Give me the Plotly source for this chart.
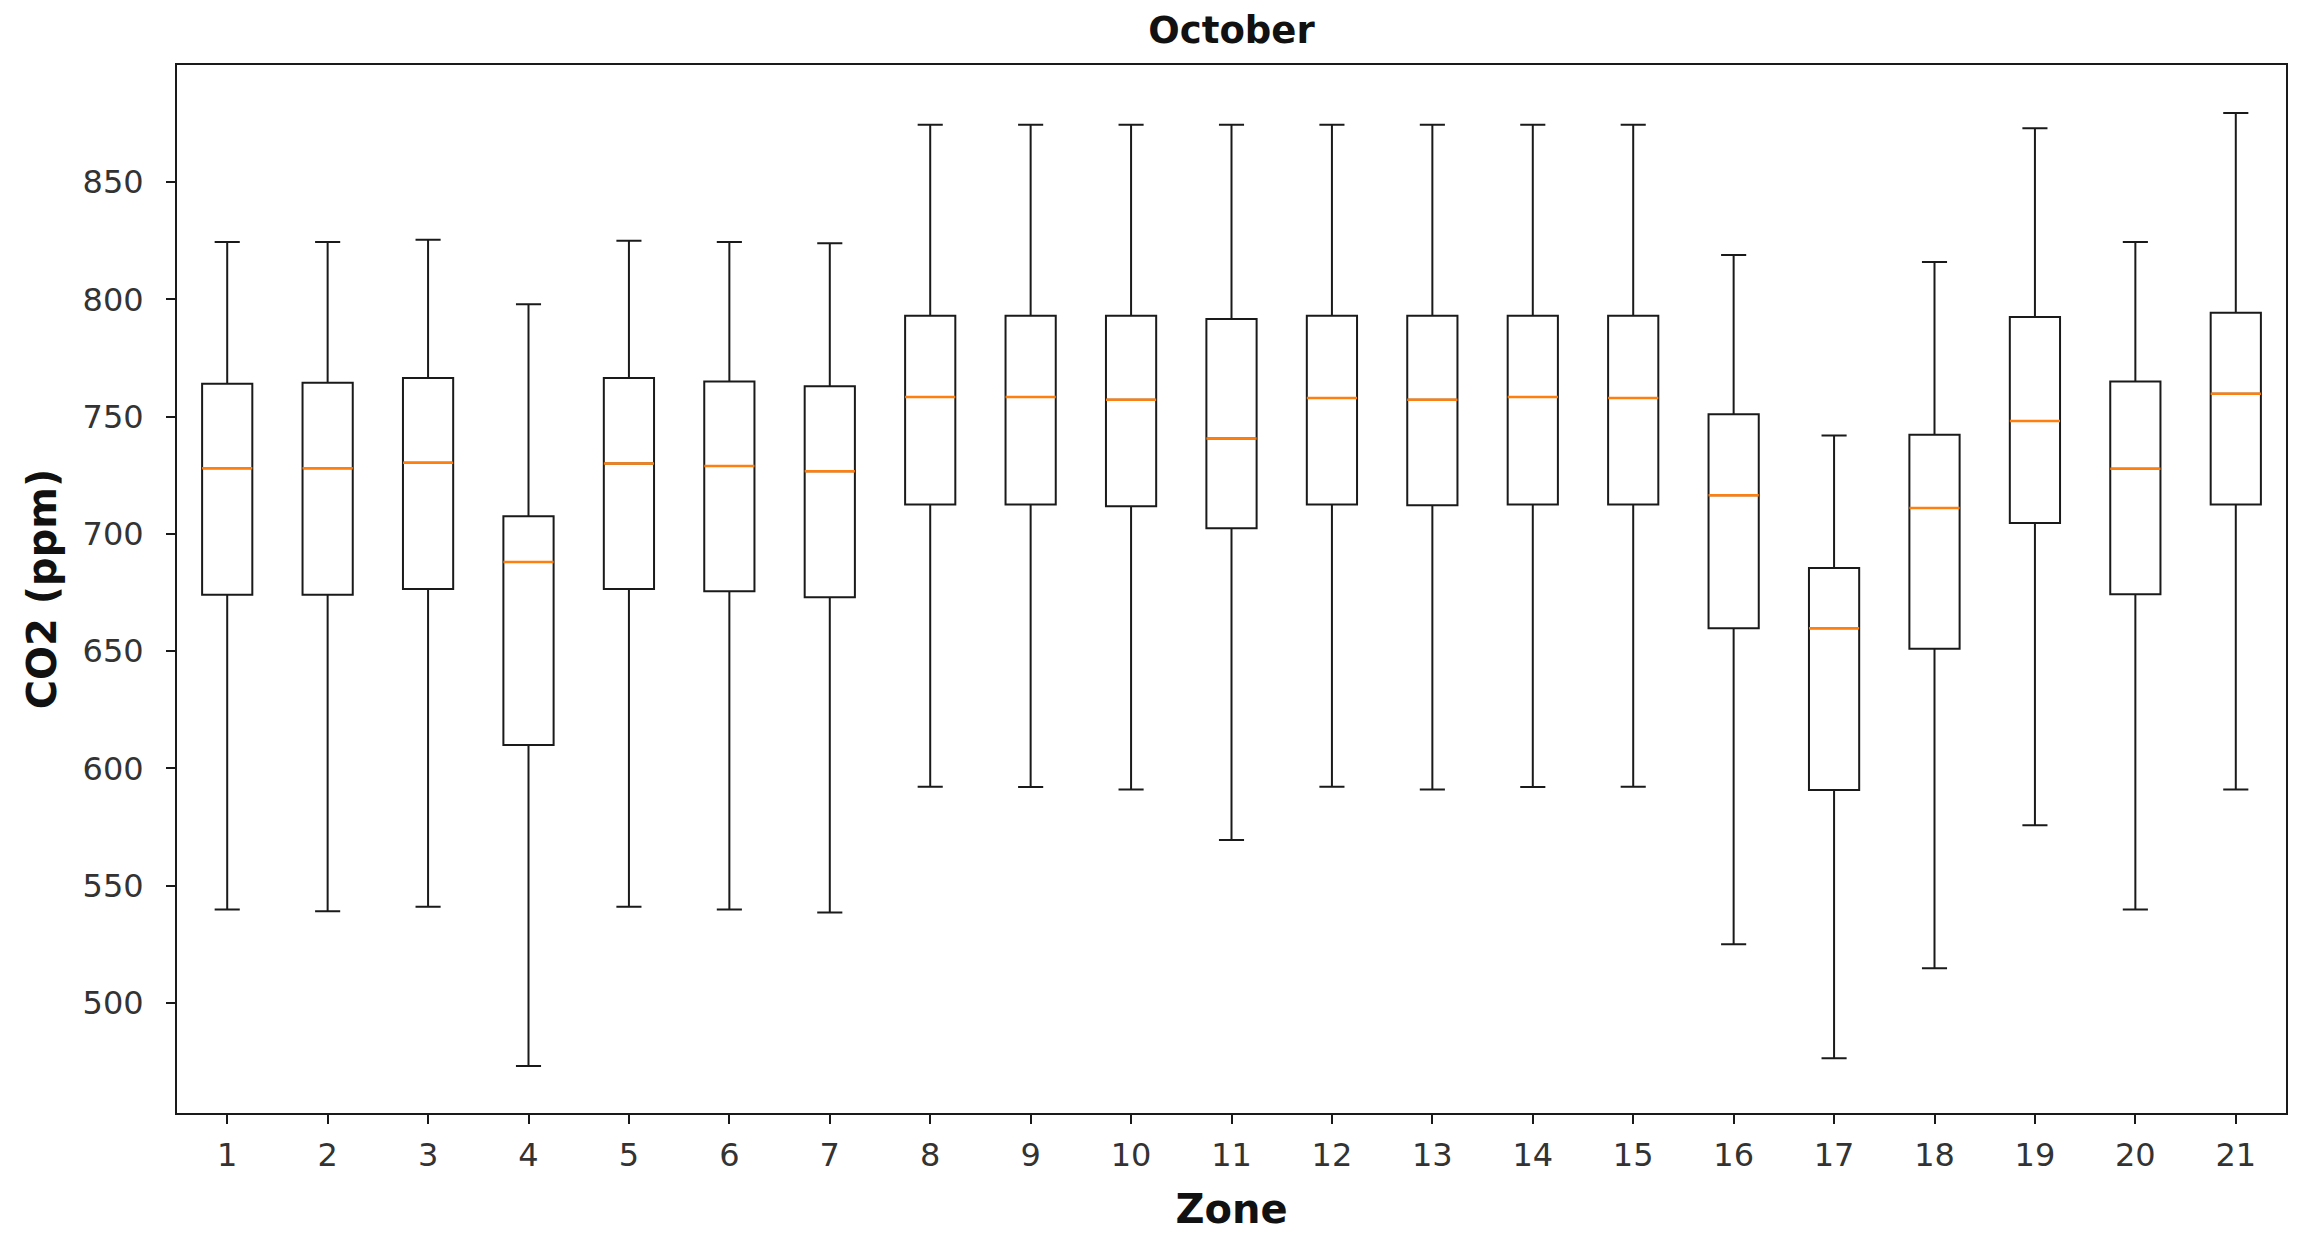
import plotly.graph_objects as go

# October CO2 box statistics per zone
zones = list(range(1, 22))
upper = [824.5, 824.5, 825.5, 798, 825, 824.5, 824, 874.5, 874.5, 874.5, 874.5,
         874.5, 874.5, 874.5, 874.5, 819, 742, 816, 873, 824.5, 879.5]
q3 = [764, 764.5, 766.5, 707.5, 766.5, 765, 763, 793, 793, 793, 791.7,
      793, 793, 793, 793, 751, 685.5, 742.3, 792.5, 765, 794.3]
median = [728, 728, 730.4, 688, 730, 729, 726.7, 758.4, 758.4, 757.2, 740.7,
          758, 757.2, 758.4, 758, 716.5, 659.8, 711, 748.2, 727.8, 759.8]
q1 = [674, 674, 676.5, 610, 676.5, 675.5, 673, 712.5, 712.5, 711.8, 702.4,
      712.5, 712.2, 712.5, 712.5, 659.8, 590.8, 651, 704.7, 674.3, 712.5]
lower = [539.8, 539, 541, 473, 541, 539.8, 538.5, 592.2, 592, 591, 569.4,
         592.2, 591, 592, 592.2, 525, 476.4, 514.7, 575.7, 539.8, 591]
y_ticks = [500, 550, 600, 650, 700, 750, 800, 850]

FONT = "DejaVu Sans"
half_w = 0.25

fig = go.Figure()
fig.add_trace(go.Box(
    x=zones, q1=q1, median=median, q3=q3,
    lowerfence=lower, upperfence=upper,
    fillcolor="rgba(0,0,0,0)", line=dict(color="#1a1a1a", width=2),
    whiskerwidth=0.5, boxpoints=False, showlegend=False,
))

# orange median lines drawn over the boxes
mx, my = [], []
for z, m in zip(zones, median):
    mx += [z - half_w, z + half_w, None]
    my += [m, m, None]
fig.add_trace(go.Scatter(x=mx, y=my, mode="lines", line=dict(color="#ff7f0e", width=2.5),
                         showlegend=False, hoverinfo="skip"))

axis_common = dict(showgrid=False, zeroline=False, showline=True, linecolor="#1a1a1a",
                   linewidth=2, mirror=True, ticks="outside", ticklen=9, tickwidth=2,
                   tickcolor="#1a1a1a", tickfont=dict(family=FONT, size=32, color="#333"))

L, R, T, B = 169, 30, 57, 129
fig.update_layout(
    width=2308, height=1234,
    paper_bgcolor="white", plot_bgcolor="white",
    margin=dict(l=L, r=R, t=T, b=B, autoexpand=False),
    title=dict(text="<b>October</b>", x=(L + 2308 - R) / 2 / 2308, xanchor="center",
               y=1 - 9 / 1234, yanchor="top", font=dict(family=FONT, size=37, color="#111")),
    xaxis=dict(range=[0.5, 21.5], tickvals=zones, ticktext=[str(z) for z in zones],
               ticklabelstandoff=4,
               title=dict(text="<b>Zone</b>", font=dict(family=FONT, size=40, color="#111"), standoff=22),
               **axis_common),
    yaxis=dict(range=[453, 900], tickvals=y_ticks, ticklabelstandoff=16,
               title=dict(text="<b>CO2 (ppm)</b>", font=dict(family=FONT, size=40, color="#111"), standoff=14),
               **axis_common),
    boxgap=0.5, boxgroupgap=0,
)

fig.write_html("out.html")
